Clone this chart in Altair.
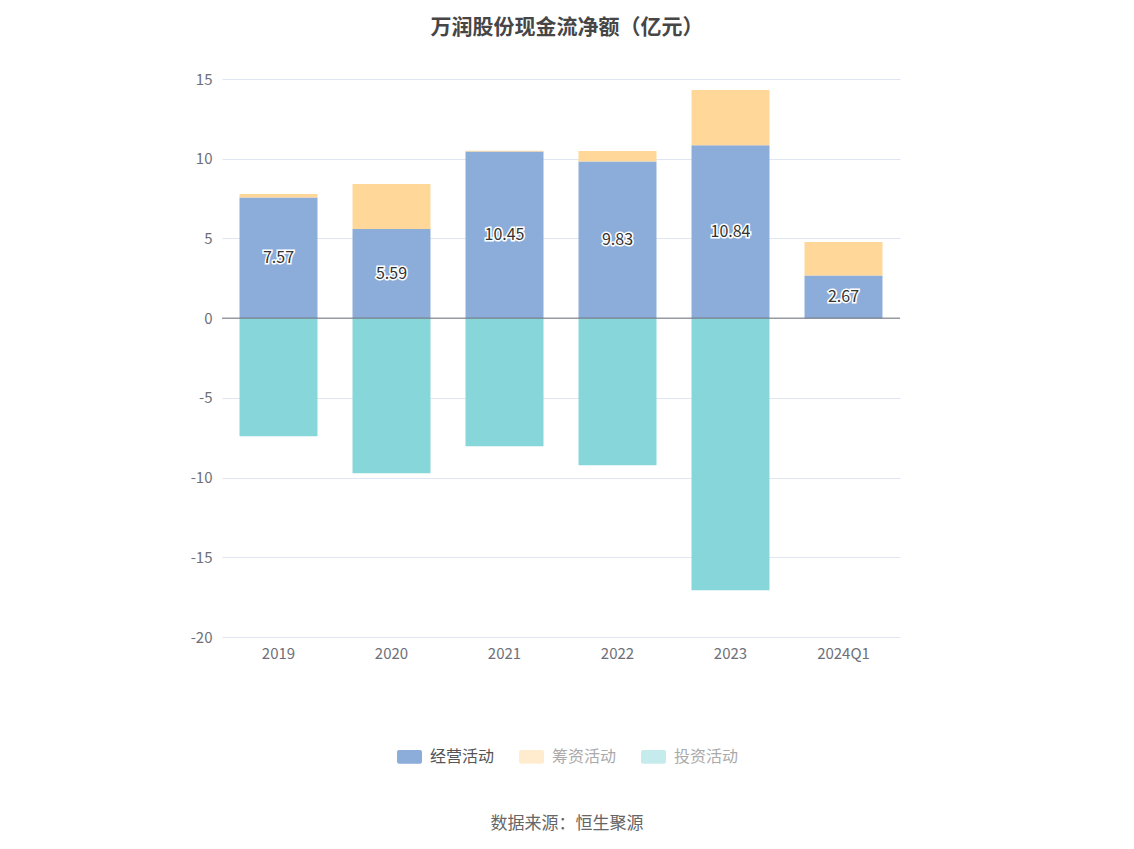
import altair as alt
import pandas as pd

years = ["2019", "2020", "2021", "2022", "2023", "2024Q1"]
operating = [7.57, 5.59, 10.45, 9.83, 10.84, 2.67]
financing = [0.21, 2.82, 0.05, 0.65, 3.47, 2.10]
investing = [-7.41, -9.73, -8.03, -9.23, -17.07, 0.0]
series = ["经营活动", "筹资活动", "投资活动"]
colors = ["#8CACD9", "#FFD899", "#87D6D9"]

rows = []
for i, y in enumerate(years):
    rows.append({"year": y, "type": series[0], "value": operating[i], "ord": 0})
    rows.append({"year": y, "type": series[1], "value": financing[i], "ord": 1})
    rows.append({"year": y, "type": series[2], "value": investing[i], "ord": 2})
df = pd.DataFrame(rows)
lab = pd.DataFrame({"year": years, "value": operating, "mid": [v / 2 for v in operating],
                    "txt": [f"{v:.2f}" for v in operating]})

xenc = alt.X("year:N", sort=years, title=None,
             scale=alt.Scale(paddingInner=0.31, paddingOuter=0.155),
             axis=alt.Axis(labelAngle=0, labelColor="#6E7079", labelFontSize=15, labelPadding=9,
                           domain=False, ticks=False, labelFont="Noto Sans CJK SC"))

rounded = ("M-0.84,-0.55 L0.84,-0.55 Q1,-0.55 1,-0.39 L1,0.39 Q1,0.55 0.84,0.55 "
           "L-0.84,0.55 Q-1,0.55 -1,0.39 L-1,-0.39 Q-1,-0.55 -0.84,-0.55 Z")

bars = alt.Chart(df).mark_bar().encode(
    x=xenc,
    y=alt.Y("value:Q", stack="zero", title=None,
            scale=alt.Scale(domain=[-20, 15], nice=False),
            axis=alt.Axis(values=[-20, -15, -10, -5, 0, 5, 10, 15], labelColor="#6E7079",
                          labelFontSize=15, labelPadding=10, domain=False, ticks=False,
                          gridColor="#E0E6F1", labelFont="Noto Sans CJK SC",
                          labelExpr="replace(datum.label, '−', '-')")),
    color=alt.Color("type:N", sort=series, scale=alt.Scale(domain=series, range=colors),
                    legend=alt.Legend(title=None, orient="none", direction="horizontal",
                                      legendX=175, legendY=665,
                                      symbolType=rounded,
                                      symbolSize=625, symbolStrokeWidth=0,
                                      labelFontSize=16, labelFont="Noto Sans CJK SC",
                                      labelColor={"expr": "datum.label == '经营活动' ? '#555555' : '#AAAAAA'"},
                                      symbolOpacity={"expr": "datum.label == '经营活动' ? 1 : 0.48"},
                                      columnPadding=24, labelOffset=8)),
    order=alt.Order("ord:Q"),
)

zero = alt.Chart(pd.DataFrame({"z": [0]})).mark_rule(color="#6E7079", strokeWidth=1).encode(
    y=alt.Y("z:Q"))

halo = alt.Chart(lab).mark_text(fontSize=16, font="Noto Sans CJK SC", stroke="white",
                                strokeWidth=3, color="white").encode(
    x=alt.X("year:N", sort=years), y=alt.Y("mid:Q"), text="txt:N")
txt = alt.Chart(lab).mark_text(fontSize=16, font="Noto Sans CJK SC", color="#333333").encode(
    x=alt.X("year:N", sort=years), y=alt.Y("mid:Q"), text="txt:N")

source = alt.Chart(pd.DataFrame({"s": ["数据来源：恒生聚源"]})).mark_text(
    fontSize=17, font="Noto Sans CJK SC", color="#666666").encode(
    x=alt.value(345), y=alt.value(745), text="s:N")

chart = alt.layer(bars, zero, halo, txt, source).properties(
    width=678, height=558,
    background="white",
    title=alt.TitleParams("万润股份现金流净额（亿元）", fontSize=21, font="Noto Sans CJK SC",
                          fontWeight="bold", color="#464646", anchor="middle", offset=34, dx=6),
    padding={"left": 214, "top": 71, "right": 226, "bottom": 204},
    autosize=alt.AutoSizeParams(type="none"),
).configure_view(stroke=None)

chart.save("out.html", embed_options={"renderer": "svg", "actions": False})
